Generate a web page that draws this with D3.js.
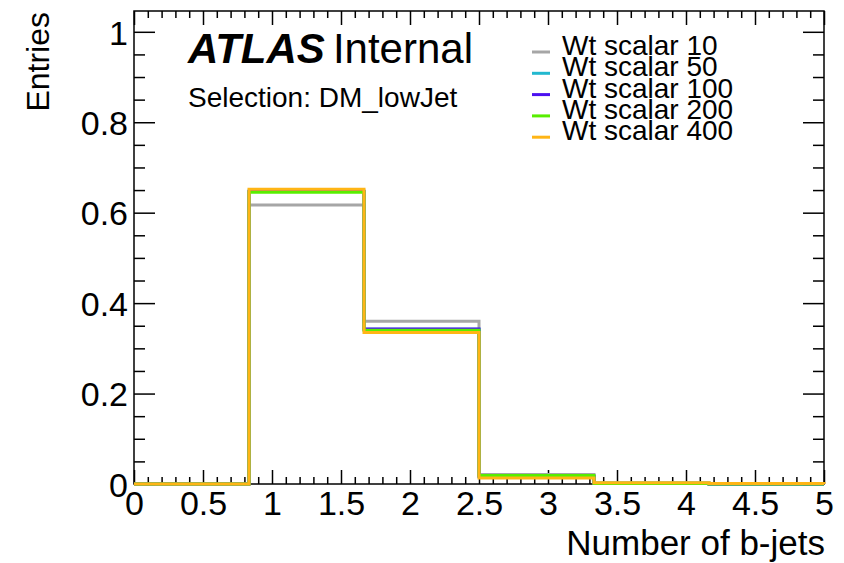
<!DOCTYPE html>
<html>
<head>
<meta charset="utf-8">
<script src="https://cdn.jsdelivr.net/npm/d3@7"></script>
<style>
  body { margin: 0; background: #fff; }
  svg { font-family: "Liberation Sans", Arial, sans-serif; }
  .axis path { display: none; }
  .axis line { stroke: #000; stroke-width: 1.5; }
</style>
</head>
<body>
<div id="chart"></div>
<script>
// bin edges (6 bins from 0 to 5)
var binEdges = [0, 5/6, 10/6, 15/6, 20/6, 25/6, 5];

// series names, colours and bin contents
var seriesNames = ["Wt scalar 10", "Wt scalar 50", "Wt scalar 100", "Wt scalar 200", "Wt scalar 400"];
var seriesColors = ["#a6a6a6", "#22b8cf", "#4b10f0", "#58ee00", "#ffb515"];
var scalar10  = [0, 0.617, 0.360, 0.021, 0.002, 0];
var scalar50  = [0, 0.648, 0.342, 0.016, 0.002, 0];
var scalar100 = [0, 0.647, 0.343, 0.017, 0.001, 0];
var scalar200 = [0, 0.645, 0.340, 0.019, 0.001, 0];
var scalar400 = [0, 0.652, 0.335, 0.013, 0.003, 0.001];
var seriesValues = [scalar10, scalar50, scalar100, scalar200, scalar400];

// ticks
var xMajor = [0, 0.5, 1, 1.5, 2, 2.5, 3, 3.5, 4, 4.5, 5];
var yMajor = [0, 0.2, 0.4, 0.6, 0.8, 1];

var svgWidth = 844, svgHeight = 563;
var margin = { top: 11, right: 20, bottom: 79, left: 134 };
var chartWidth = svgWidth - margin.left - margin.right;
var chartHeight = svgHeight - margin.top - margin.bottom;

var svg = d3.select("#chart").append("svg")
    .attr("width", svgWidth).attr("height", svgHeight);
var chartGroup = svg.append("g")
    .attr("transform", `translate(${margin.left}, ${margin.top})`);

var xScale = d3.scaleLinear().domain([0, 5]).range([0, chartWidth]);
var yScale = d3.scaleLinear().domain([0, 1.046]).range([chartHeight, 0]);

var xMinor = d3.range(0, 51).map(d => d / 10).filter(d => xMajor.indexOf(d) < 0);
var yMinor = d3.range(0, 21).map(d => d / 20).filter(d => yMajor.indexOf(d) < 0);

function fmt(d) { return d3.format("~g")(d); }

// minor ticks (inward)
chartGroup.append("g").attr("class", "axis")
    .attr("transform", `translate(0, ${chartHeight})`)
    .call(d3.axisBottom(xScale).tickValues(xMinor).tickSize(-7).tickFormat(""));
chartGroup.append("g").attr("class", "axis")
    .call(d3.axisTop(xScale).tickValues(xMinor).tickSize(-7).tickFormat(""));
chartGroup.append("g").attr("class", "axis")
    .call(d3.axisLeft(yScale).tickValues(yMinor).tickSize(-11).tickFormat(""));
chartGroup.append("g").attr("class", "axis")
    .attr("transform", `translate(${chartWidth}, 0)`)
    .call(d3.axisRight(yScale).tickValues(yMinor).tickSize(-11).tickFormat(""));

// major ticks
var xAxis = chartGroup.append("g").attr("class", "axis")
    .attr("transform", `translate(0, ${chartHeight})`)
    .call(d3.axisBottom(xScale).tickValues(xMajor).tickSize(-14).tickFormat(fmt));
xAxis.selectAll("text").attr("font-size", "34px").attr("fill", "#000")
    .attr("dy", "0").attr("y", 31);
chartGroup.append("g").attr("class", "axis")
    .call(d3.axisTop(xScale).tickValues(xMajor).tickSize(-14).tickFormat(""));
var yAxis = chartGroup.append("g").attr("class", "axis")
    .call(d3.axisLeft(yScale).tickValues(yMajor).tickSize(-21).tickFormat(fmt));
yAxis.selectAll("text").attr("font-size", "34px").attr("fill", "#000")
    .attr("x", -6).attr("dy", "0.36em");
chartGroup.append("g").attr("class", "axis")
    .attr("transform", `translate(${chartWidth}, 0)`)
    .call(d3.axisRight(yScale).tickValues(yMajor).tickSize(-21).tickFormat(""));

// frame
chartGroup.append("rect")
    .attr("width", chartWidth).attr("height", chartHeight)
    .attr("fill", "none").attr("stroke", "#000").attr("stroke-width", 1.5);

// histograms as steps
seriesValues.forEach(function(vals, i) {
    var pts = [[binEdges[0], 0]];
    vals.forEach(function(v, b) {
        pts.push([binEdges[b], v]);
        pts.push([binEdges[b + 1], v]);
    });
    pts.push([binEdges[binEdges.length - 1], 0]);
    chartGroup.append("path")
        .attr("d", d3.line().x(d => xScale(d[0])).y(d => yScale(d[1]))(pts))
        .attr("fill", "none")
        .attr("stroke", seriesColors[i])
        .attr("stroke-width", 3);
});

// axis titles
svg.append("text")
    .attr("transform", "translate(49, 12) rotate(-90)")
    .attr("text-anchor", "end")
    .attr("font-size", "32px")
    .text("Entries");
svg.append("text")
    .attr("x", 825).attr("y", 555)
    .attr("text-anchor", "end")
    .attr("font-size", "35px")
    .text("Number of b-jets");

// ATLAS label
var atlas = svg.append("text").attr("x", 188).attr("y", 63).attr("font-size", "42px");
atlas.append("tspan").attr("font-weight", "bold").attr("font-style", "italic").text("ATLAS");
atlas.append("tspan").attr("dx", "8").text("Internal");
svg.append("text")
    .attr("x", 188).attr("y", 107)
    .attr("font-size", "28px")
    .text("Selection: DM_lowJet");

// legend
var legend = svg.append("g").attr("transform", "translate(532, 52)");
seriesNames.forEach(function(name, i) {
    var row = legend.append("g").attr("transform", `translate(0, ${i * 21.3})`);
    row.append("line").attr("x1", 0).attr("x2", 18)
        .attr("stroke", seriesColors[i]).attr("stroke-width", 3);
    row.append("text").attr("x", 30).attr("y", 3)
        .attr("font-size", "28px").text(name);
});
</script>
</body>
</html>
